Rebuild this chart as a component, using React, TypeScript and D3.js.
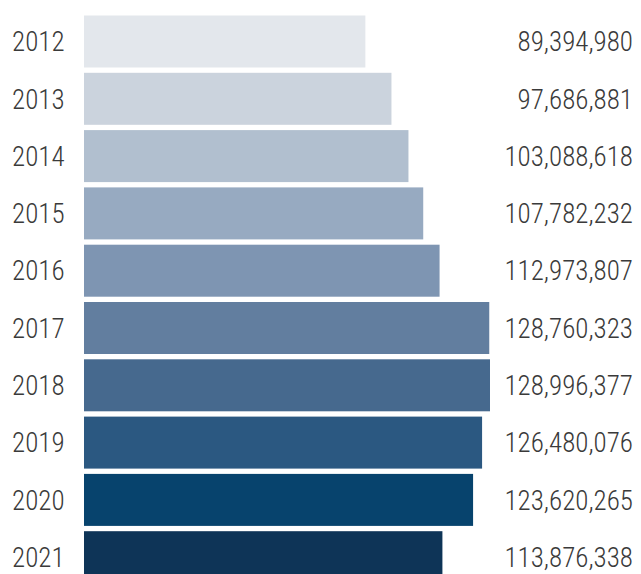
import React from "react";
import * as d3 from "d3";

const years = ["2012", "2013", "2014", "2015", "2016", "2017", "2018", "2019", "2020", "2021"];
const values = [89394980, 97686881, 103088618, 107782232, 112973807, 128760323, 128996377, 126480076, 123620265, 113876338];

const barColors = [
  "#e3e7ec",
  "#cbd3dd",
  "#b1bfcf",
  "#97aac1",
  "#7e95b2",
  "#627e9f",
  "#46698e",
  "#2b5881",
  "#07436d",
  "#0e3457",
];

const W = 641;
const H = 574;

export default function App() {
  const x = d3.scaleLinear().domain([0, 128996377]).range([84, 490]);
  const y = d3
    .scaleBand<string>()
    .domain(years)
    .range([15.5, 583.2])
    .paddingInner(0.0925)
    .paddingOuter(0);
  const fmt = d3.format(",");
  const font = "'Roboto Condensed', 'Liberation Sans Narrow', 'DejaVu Sans Condensed', sans-serif";

  return (
    <div style={{ position: "absolute", left: 0, top: 0, width: W, height: H, background: "#fff" }}>
      <svg width={W} height={H} style={{ display: "block" }}>
        <rect x={0} y={0} width={W} height={H} fill="#fff" />
        {years.map((yr, i) => {
          const y0 = y(yr)!;
          const cy = y0 + y.bandwidth() / 2;
          return (
            <g key={yr}>
              <rect x={x(0)} y={y0} width={x(values[i]) - x(0)} height={y.bandwidth()} fill={barColors[i]} />
              <text x={12} y={cy} dy="0.36em" fontFamily={font} fontWeight={300} fontSize={27} fill="#3a3a3a">
                {yr}
              </text>
              <text x={633} y={cy} dy="0.36em" textAnchor="end" fontFamily={font} fontWeight={300} fontSize={27} fill="#3a3a3a">
                {fmt(values[i])}
              </text>
            </g>
          );
        })}
      </svg>
    </div>
  );
}
